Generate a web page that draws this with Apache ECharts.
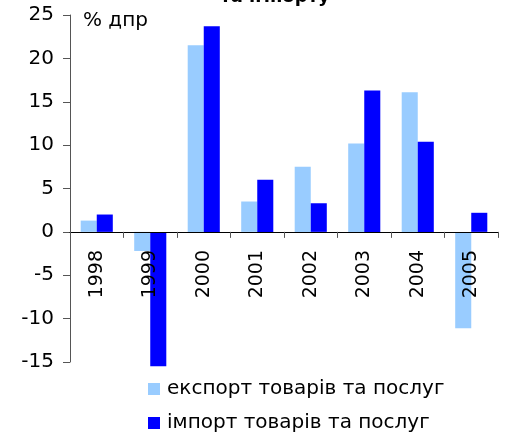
<!DOCTYPE html>
<html>
<head>
<meta charset="utf-8">
<script src="https://cdn.jsdelivr.net/npm/echarts@6/dist/echarts.min.js"></script>
<style>
  html, body { margin: 0; padding: 0; background: #fff; }
  #container { width: 511px; height: 432px; }
</style>
</head>
<body>
<div id="container"></div>
<script>
// years on the category axis
let years = ['1998', '1999', '2000', '2001', '2002', '2003', '2004', '2005'];
// real growth, % yoy
let exportVals = [1.3, -2.2, 21.5, 3.5, 7.5, 10.2, 16.1, -11.1];
let importVals = [2.0, -15.5, 23.7, 6.0, 3.3, 16.3, 10.4, 2.2];
let seriesNames = ['експорт товарів та послуг', 'імпорт товарів та послуг'];

let font = 'DejaVu Sans';

let chart = echarts.init(document.getElementById('container'));

chart.setOption({
    animation: false,
    textStyle: { fontFamily: font },
    title: {
        text: 'та імпорту',
        left: 270,
        textAlign: 'center',
        top: -17,
        textStyle: { fontFamily: font, fontSize: 18, fontWeight: 'bold', color: '#000' }
    },
    graphic: [{
        type: 'text',
        left: 83,
        top: 11,
        style: { text: '% дпр', font: '20px "DejaVu Sans"', fill: '#000' }
    }],
    grid: { left: 70, right: 13, top: 15, bottom: 70 },
    legend: {
        orient: 'vertical',
        left: 143,
        top: 374,
        height: 120,
        itemWidth: 12,
        itemHeight: 12,
        itemGap: 14,
        textStyle: { fontFamily: font, fontSize: 20, color: '#000', padding: [0, 0, 0, 2] },
        data: [
            { name: seriesNames[0], icon: 'rect' },
            { name: seriesNames[1], icon: 'rect' }
        ]
    },
    xAxis: {
        type: 'category',
        data: years,
        z: 5,
        axisLine: { onZero: true, lineStyle: { color: '#000', width: 1 } },
        axisTick: { show: true, inside: false, length: 6, lineStyle: { color: '#555' } },
        axisLabel: { rotate: 90, margin: -112, fontSize: 19, color: '#000', fontFamily: font }
    },
    yAxis: {
        type: 'value',
        min: -15,
        max: 25,
        interval: 5,
        splitLine: { show: false },
        axisLine: { show: true, lineStyle: { color: '#555' } },
        axisTick: { show: true, length: 7, lineStyle: { color: '#555' } },
        axisLabel: { fontSize: 20, color: '#000', margin: 16, fontFamily: font }
    },
    series: [
        {
            name: seriesNames[0],
            type: 'bar',
            data: exportVals,
            clip: false,
            barGap: '0%',
            barCategoryGap: '40%',
            itemStyle: { color: '#99ccff' }
        },
        {
            name: seriesNames[1],
            type: 'bar',
            data: importVals,
            clip: false,
            itemStyle: { color: '#0000ff' }
        }
    ]
});
</script>
</body>
</html>
